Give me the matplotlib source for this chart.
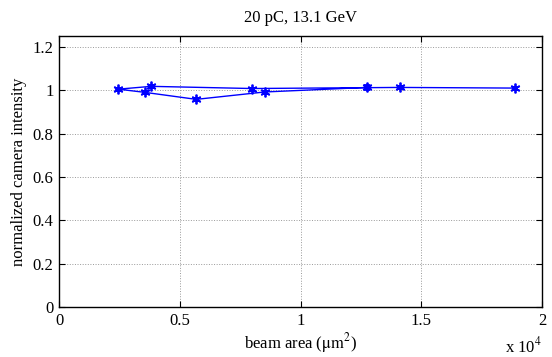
import numpy as np
import matplotlib
matplotlib.use('Agg')
import matplotlib.pyplot as plt
from matplotlib.ticker import FuncFormatter

# data, in measurement order
beam_area = [12740, 8510, 5680, 3570, 2450, 3820, 7970, 14100, 18880]
intensity = [1.013, 0.992, 0.958, 0.990, 1.005, 1.018, 1.008, 1.013, 1.010]
intensity_err = [0.012, 0.004, 0.004, 0.004, 0.004, 0.005, 0.004, 0.006, 0.004]

x_ticks = [0, 5000, 10000, 15000, 20000]
y_ticks = [0, 0.2, 0.4, 0.6, 0.8, 1.0, 1.2]

plt.rcParams['font.family'] = ['Liberation Serif', 'DejaVu Serif']
plt.rcParams['mathtext.fontset'] = 'stix'

fig = plt.figure(figsize=(5.52, 3.57), dpi=100)
ax = fig.add_axes([0.107, 0.140, 0.875, 0.759])

# MATLAB style asterisk marker
ax.errorbar(beam_area, intensity, yerr=intensity_err, color='blue', marker=(6, 2, 0),
            markersize=7, markeredgewidth=1.3, linewidth=1, elinewidth=1, capsize=2)

ax.set_xlim(0, 20000)
ax.set_ylim(0, 1.25)
ax.set_xticks(x_ticks)
ax.set_yticks(y_ticks)
ax.xaxis.set_major_formatter(FuncFormatter(lambda v, p: '%g' % (v / 1e4)))
ax.yaxis.set_major_formatter(FuncFormatter(lambda v, p: '%g' % v))
ax.tick_params(direction='in', labelsize=12, top=True, right=True, length=4, pad=4)
ax.grid(True, linestyle=':', color='#999999', linewidth=0.7)
for s in ax.spines.values():
    s.set_linewidth(1)

ax.set_title('20 pC, 13.1 GeV', fontsize=12, pad=10)
ax.set_xlabel(r'beam area ($\mathrm{\mu m^2}$)', fontsize=12, labelpad=2)
ax.set_ylabel('normalized camera intensity', fontsize=12, labelpad=4)
ax.text(1.0, -0.145, r'x 10$^4$', transform=ax.transAxes, ha='right', va='center', fontsize=12)

fig.savefig('out.png', dpi=100)
